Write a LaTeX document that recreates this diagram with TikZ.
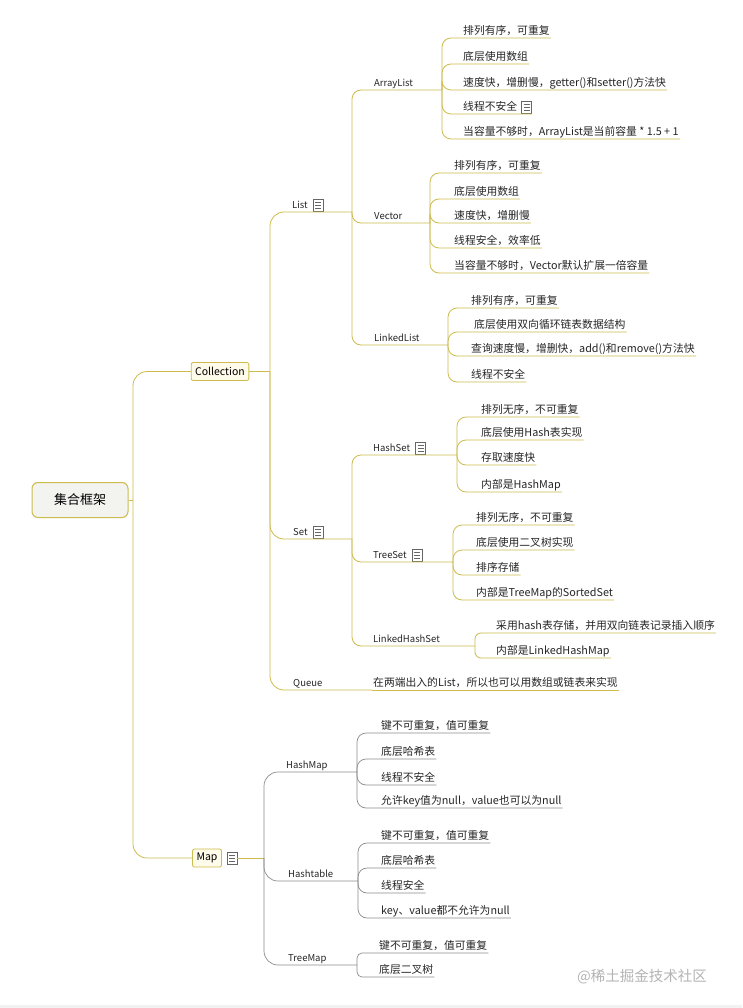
\documentclass[tikz,border=0pt]{standalone}
\usepackage{fontspec}
\usetikzlibrary{positioning}
\setmainfont{Noto Sans CJK SC}
\definecolor{lc}{HTML}{CDBB4E}
\definecolor{gc}{HTML}{8C8C8C}
\definecolor{boxfill}{HTML}{FFFBEA}
\definecolor{rootfill}{HTML}{F3F3F0}
\definecolor{wm}{HTML}{B4B4B4}
\tikzset{
  item/.style={anchor=south west, inner xsep=1pt, inner ysep=1.5pt, text height=8.5pt, text depth=2pt, font=\fontsize{10.8}{12}\selectfont, text=black!85},
  lbl/.style={item, font=\fontsize{9.5}{11}\selectfont},
  yl/.style={draw=lc, line width=0.8pt, rounded corners=9pt},
  gl/.style={draw=gc, line width=0.7pt, rounded corners=9pt},
  ico/.style={draw=black!60, line width=0.5pt, minimum width=10pt, minimum height=12pt, inner sep=0pt,
    path picture={\draw[black!60, line width=0.4pt]
      ([xshift=2pt,yshift=-3pt]path picture bounding box.north west) -- ([xshift=-2pt,yshift=-3pt]path picture bounding box.north east)
      ([xshift=2pt,yshift=-6pt]path picture bounding box.north west) -- ([xshift=-2pt,yshift=-6pt]path picture bounding box.north east)
      ([xshift=2pt,yshift=-9pt]path picture bounding box.north west) -- ([xshift=-2pt,yshift=-9pt]path picture bounding box.north east);}},
  catbox/.style={draw=lc, fill=boxfill, line width=0.8pt, rounded corners=2pt, inner xsep=4pt, inner ysep=2pt, minimum height=18pt, font=\fontsize{10.5}{12}\selectfont}
}
\begin{document}
\begin{tikzpicture}[x=1pt,y=-1pt]
\useasboundingbox (0,0) rectangle (742,1008);
\fill[white] (0,0) rectangle (742,1008);
\fill[black!5] (0,1005) rectangle (742,1008);

% root
\node[draw=lc, fill=rootfill, line width=1pt, rounded corners=6pt, minimum width=96pt, minimum height=35pt, font=\fontsize{13}{15}\selectfont] (root) at (80,500) {集合框架};
\coordinate (rootT) at (133,500);
\node[catbox] (coll) at (220,371.5) {Collection};
\node[catbox] (map) at (207,858) {Map};
\node[ico, right=5pt of map] (mapi) {};
\draw[yl] (root.east) -- (rootT);
\draw[yl, rounded corners=14pt] (rootT) |- (coll.west);
\draw[yl, rounded corners=14pt] (rootT) |- (map.west);

% Collection
\coordinate (collT) at (270,371.5);
\draw[yl] (coll.east) -- (collT);
\node[lbl] (list) at (291,212) {List};
\node[ico, right=4pt of list] (listi) {};
\coordinate (listT) at (352,212);
\node[lbl] (set) at (292,539) {Set};
\node[ico, right=4pt of set] (seti) {};
\coordinate (setT) at (352,539);
\node[lbl] (queue) at (292,690) {Queue};
\coordinate (queueT) at (372,690);
\draw[yl, rounded corners=14pt] (collT) |- (listT);
\draw[yl, rounded corners=14pt] (collT) |- (setT);
\draw[yl, rounded corners=14pt] (collT) |- (queueT);
\node[item] (q1) at (372,690) {在两端出入的List，所以也可以用数组或链表来实现};
\draw[yl] (queueT) -- (q1.south east);

% ArrayList
\node[lbl] (arr) at (373,90) {ArrayList};
\coordinate (arrT) at (442,90);
\draw[yl] (listT) |- (arrT);
\node[item] (a1) at (462,38) {排列有序，可重复};
\node[item] (a2) at (462,64) {底层使用数组};
\node[item] (a3) at (462,90) {速度快，增删慢，getter()和setter()方法快};
\node[item] (a4) at (462,114) {线程不安全};
\node[ico, right=3pt of a4] (a4i) {};
\node[item] (a5) at (462,139) {当容量不够时，ArrayList是当前容量 * 1.5 + 1};
\foreach \c in {a1,a2,a3,a5} \draw[yl] (arrT) |- (\c.south east);
\draw[yl] (arrT) |- (a4.south -| a4i.east);

% Vector
\node[lbl] (vec) at (373,223) {Vector};
\coordinate (vecT) at (430,223);
\draw[yl] (listT) |- (vecT);
\node[item] (v1) at (453,173) {排列有序，可重复};
\node[item] (v2) at (453,199) {底层使用数组};
\node[item] (v3) at (453,223) {速度快，增删慢};
\node[item] (v4) at (453,248) {线程安全，效率低};
\node[item] (v5) at (453,273) {当容量不够时，Vector默认扩展一倍容量};
\foreach \c in {v1,v2,v3,v4,v5} \draw[yl] (vecT) |- (\c.south east);

% LinkedList
\node[lbl] (lnk) at (373,345) {LinkedList};
\coordinate (lnkT) at (448,345);
\draw[yl] (listT) |- (lnkT);
\node[item] (l1) at (470,308) {排列有序，可重复};
\node[item] (l2) at (473,332) {底层使用双向循环链表数据结构};
\node[item] (l3) at (470,356) {查询速度慢，增删快，add()和remove()方法快};
\node[item] (l4) at (470,382) {线程不安全};
\foreach \c in {l1,l2,l3,l4} \draw[yl] (lnkT) |- (\c.south east);

% HashSet
\node[lbl] (hs) at (372,455) {HashSet};
\node[ico, right=4pt of hs] (hsi) {};
\coordinate (hsT) at (457,455);
\draw[yl] (setT) |- (hsT);
\node[item] (h1) at (480,417) {排列无序，不可重复};
\node[item] (h2) at (480,440) {底层使用Hash表实现};
\node[item] (h3) at (480,465) {存取速度快};
\node[item] (h4) at (480,492) {内部是HashMap};
\foreach \c in {h1,h2,h3,h4} \draw[yl] (hsT) |- (\c.south east);

% TreeSet
\node[lbl] (ts) at (372,562) {TreeSet};
\node[ico, right=4pt of ts] (tsi) {};
\coordinate (tsT) at (453,562);
\draw[yl] (setT) |- (tsT);
\node[item] (t1) at (475,525) {排列无序，不可重复};
\node[item] (t2) at (475,550) {底层使用二叉树实现};
\node[item] (t3) at (475,575) {排序存储};
\node[item] (t4) at (475,600) {内部是TreeMap的SortedSet};
\foreach \c in {t1,t2,t3,t4} \draw[yl] (tsT) |- (\c.south east);

% LinkedHashSet
\node[lbl] (lhs) at (372,646) {LinkedHashSet};
\coordinate (lhsT) at (475,646);
\draw[yl] (setT) |- (lhsT);
\node[item] (s1) at (495,633) {采用hash表存储，并用双向链表记录插入顺序};
\node[item] (s2) at (495,658) {内部是LinkedHashMap};
\foreach \c in {s1,s2} \draw[yl, rounded corners=6pt] (lhsT) |- (\c.south east);

% Map
\coordinate (mapT) at (264,858);
\draw[yl] (mapi.east) -- (mapT);
\node[lbl] (hm) at (285,772) {HashMap};
\coordinate (hmT) at (357,772);
\node[lbl] (ht) at (287,881) {Hashtable};
\coordinate (htT) at (358,881);
\node[lbl] (tm) at (287,965) {TreeMap};
\coordinate (tmT) at (357,965);
\draw[gl, rounded corners=14pt] (mapT) |- (hmT);
\draw[gl, rounded corners=14pt] (mapT) |- (htT);
\draw[gl, rounded corners=14pt] (mapT) |- (tmT);

\node[item] (m1) at (380,733) {键不可重复，值可重复};
\node[item] (m2) at (380,759) {底层哈希表};
\node[item] (m3) at (380,785) {线程不安全};
\node[item] (m4) at (380,808) {允许key值为null，value也可以为null};
\foreach \c in {m1,m2,m3,m4} \draw[gl] (hmT) |- (\c.south east);

\node[item] (n1) at (380,843) {键不可重复，值可重复};
\node[item] (n2) at (380,868) {底层哈希表};
\node[item] (n3) at (380,893) {线程安全};
\node[item] (n4) at (380,918) {key、value都不允许为null};
\foreach \c in {n1,n2,n3,n4} \draw[gl] (htT) |- (\c.south east);

\node[item] (r1) at (378,953) {键不可重复，值可重复};
\node[item] (r2) at (378,977) {底层二叉树};
\foreach \c in {r1,r2} \draw[gl, rounded corners=5pt] (tmT) |- (\c.south east);

% watermark
\node[anchor=west, text=wm, inner sep=0pt, font=\fontsize{14.5}{16}\selectfont] (wmk) at (577,977) {@稀土掘金技术社区};
\end{tikzpicture}
\end{document}
